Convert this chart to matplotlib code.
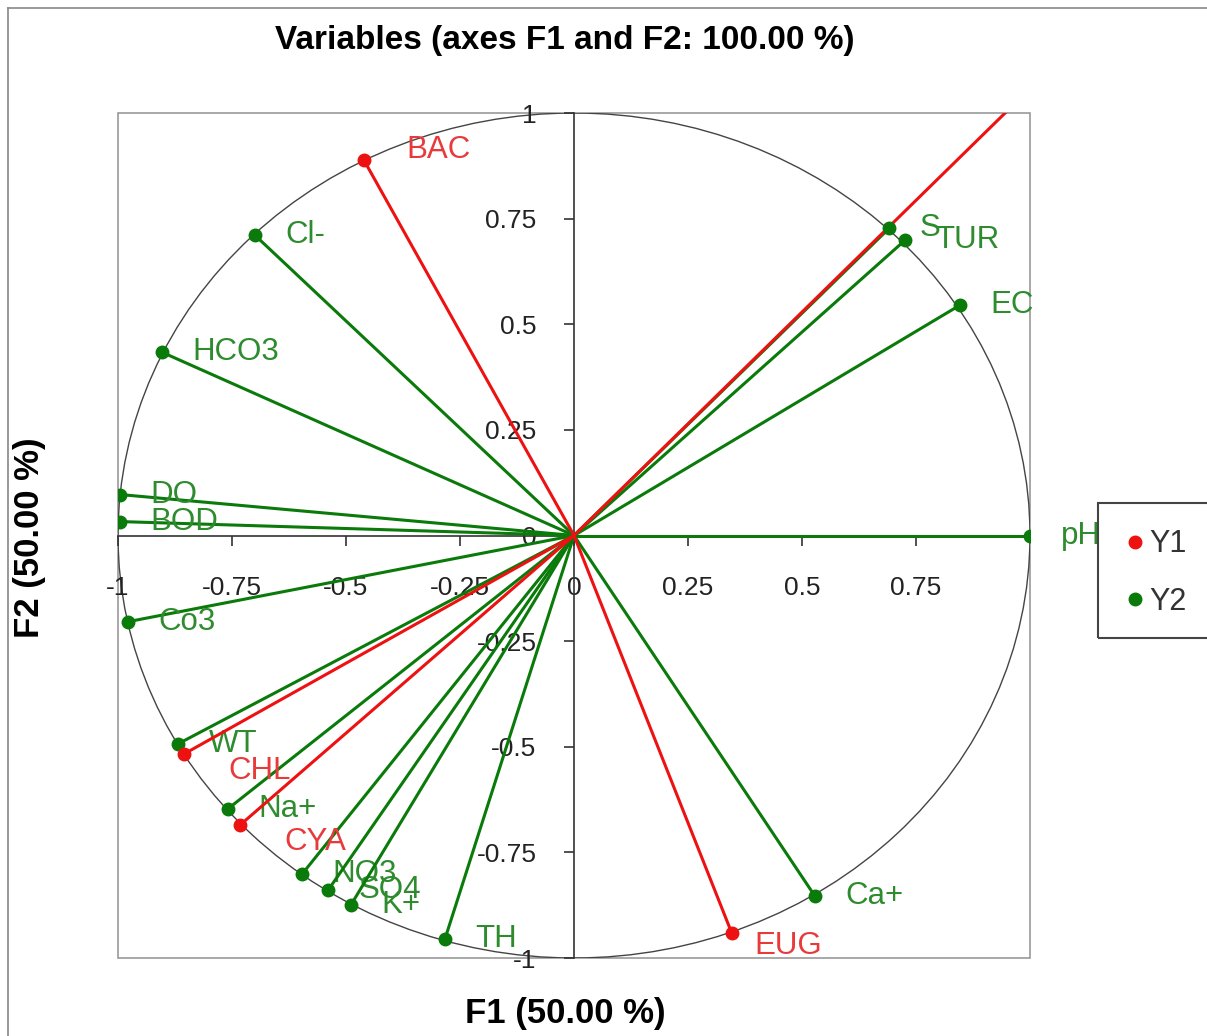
import matplotlib
matplotlib.use("Agg")
import matplotlib.pyplot as plt
import numpy as np
from matplotlib.lines import Line2D
from matplotlib.patches import Rectangle, Circle

plt.rcParams['font.family'] = ['Liberation Sans', 'DejaVu Sans']

# ---- data ----
y1_names = ["BAC", "CHL", "CYA", "EUG", ""]
y1_f1 = [-0.461, -0.855, -0.732, 0.346, 1.04]
y1_f2 = [0.889, -0.517, -0.685, -0.941, 1.10]

y2_names = ["Cl-", "HCO3", "DO", "BOD", "Co3", "WT", "Na+", "NO3", "SO4", "K+",
            "TH", "Ca+", "pH", "EC", "TUR", "S"]
y2_f1 = [-0.700, -0.904, -0.996, -0.996, -0.978, -0.868, -0.759, -0.596, -0.539, -0.489,
         -0.283, 0.528, 1.000, 0.846, 0.726, 0.691]
y2_f2 = [0.711, 0.434, 0.097, 0.033, -0.204, -0.493, -0.647, -0.801, -0.839, -0.874,
         -0.955, -0.853, 0.000, 0.545, 0.699, 0.727]

xticks = [-1, -0.75, -0.5, -0.25, 0, 0.25, 0.5, 0.75]
xtick_labels = ["-1", "-0.75", "-0.5", "-0.25", "0", "0.25", "0.5", "0.75"]
yticks = [-1, -0.75, -0.5, -0.25, 0, 0.25, 0.5, 0.75, 1]
ytick_labels = ["-1", "-0.75", "-0.5", "-0.25", "0", "0.25", "0.5", "0.75", "1"]

# label offsets (points) - styling only
y1_offsets = [(31, 7), (32, -12), (32, -12), (16, -9), (0, 0)]

RED = "#ee1111"
GREEN = "#0a7a0a"
RED_TXT = "#e83a3a"
GREEN_TXT = "#2e8b2e"

W, H = 1207, 1036
fig = plt.figure(figsize=(W / 100, H / 100), dpi=100)
ax = fig.add_axes([118 / W, 1 - 958 / H, (1030 - 118) / W, (958 - 113) / H])
ax.set_xlim(-1, 1)
ax.set_ylim(-1, 1)

# frame
for s in ["top", "right"]:
    ax.spines[s].set_visible(False)
ax.spines["left"].set_position(("data", 0))
ax.spines["bottom"].set_position(("data", 0))
ax.spines["left"].set_color("#333333")
ax.spines["bottom"].set_color("#333333")
ax.spines["left"].set_linewidth(1.2)
ax.spines["bottom"].set_linewidth(1.2)
ax.add_patch(Rectangle((0, 0), 1, 1, transform=ax.transAxes, fill=False,
                       edgecolor="#999999", linewidth=1.2, zorder=0, clip_on=False))
ax.add_patch(Circle((0, 0), 1, fill=False, edgecolor="#444444", linewidth=1.0, zorder=1))

ax.set_xticks(xticks)
ax.set_xticklabels(xtick_labels)
ax.set_yticks(yticks)
ax.set_yticklabels(ytick_labels)
ax.tick_params(axis="both", labelsize=19, colors="#333333", length=7, width=1.2,
               labelcolor="#222222")
ax.tick_params(axis="x", pad=22)
ax.tick_params(axis="y", pad=20)

# vectors
label_kw = dict(fontsize=22.5, va="center", ha="left", textcoords="offset points")
for n, x, y in zip(y2_names, y2_f1, y2_f2):
    ax.plot([0, x], [0, y], color=GREEN, lw=2.2, zorder=3)
    ax.plot([x], [y], "o", color=GREEN, ms=9, zorder=4)
    ax.annotate(n, (x, y), xytext=(22, 0), color=GREEN_TXT, **label_kw)

for n, x, y, off in zip(y1_names, y1_f1, y1_f2, y1_offsets):
    ax.plot([0, x], [0, y], color=RED, lw=2.2, zorder=3, clip_on=True)
    if abs(x) <= 1 and abs(y) <= 1:
        ax.plot([x], [y], "o", color=RED, ms=9, zorder=4)
        ax.annotate(n, (x, y), xytext=off, color=RED_TXT, **label_kw)

ax.set_title("Variables (axes F1 and F2: 100.00 %)", fontsize=24, fontweight="bold",
             pad=46, x=0.49)
fig.text(565 / W, 1 - 1013 / H, "F1 (50.00 %)", fontsize=25, fontweight="bold",
         ha="center", va="center")
fig.text(30 / W, 1 - 538 / H, "F2 (50.00 %)", fontsize=25, fontweight="bold",
         ha="center", va="center", rotation=90)

# legend
fig.patches.append(Rectangle((1098 / W, 1 - 638 / H), 0.2, (638 - 503) / H,
                             transform=fig.transFigure, fill=False,
                             edgecolor="#444444", linewidth=1.5))
handles = [Line2D([], [], ls="", marker="o", color=RED, ms=9),
           Line2D([], [], ls="", marker="o", color=GREEN, ms=9)]
fig.legend(handles, ["Y1", "Y2"], loc="center left",
           bbox_to_anchor=(1100 / W, 1 - 573 / H), frameon=False, fontsize=22,
           handlelength=0.5, handletextpad=0.2, labelspacing=0.9, labelcolor="#333333")

# outer border
fig.add_artist(Line2D([8 / W, 8 / W], [0, 1 - 8 / H], transform=fig.transFigure,
                      color="#888888", lw=1.2))
fig.add_artist(Line2D([8 / W, 1], [1 - 8 / H, 1 - 8 / H], transform=fig.transFigure,
                      color="#888888", lw=1.2))

fig.savefig("out.png", dpi=100, facecolor="white")
